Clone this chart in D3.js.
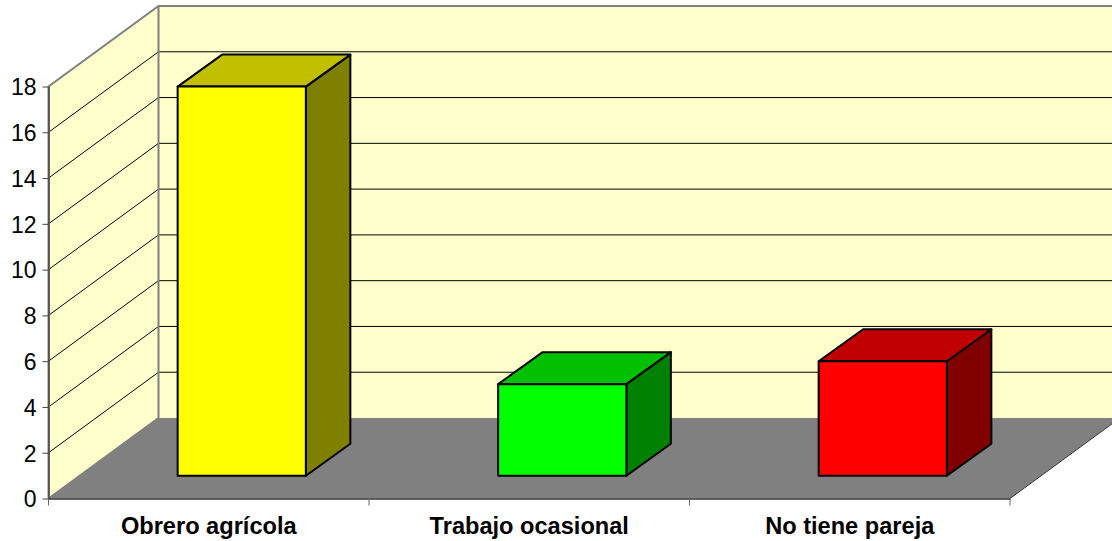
<!DOCTYPE html>
<html>
<head>
<meta charset="utf-8">
<script src="https://cdn.jsdelivr.net/npm/d3@7"></script>
<style>
  html, body { margin: 0; padding: 0; background: #fff; }
  svg { display: block; }
  text { font-family: "Liberation Sans", Arial, sans-serif; fill: #000; }
</style>
</head>
<body>
<div id="chart"></div>
<script>
const categories = ['Obrero agrícola', 'Trabajo ocasional', 'No tiene pareja'];
const values = [17, 4, 5];
const yTicks = [0, 2, 4, 6, 8, 10, 12, 14, 16, 18];

const barColors = {
  front: ['#ffff00', '#00ff00', '#ff0000'],
  top: ['#c0c000', '#00c000', '#c00000'],
  side: ['#808000', '#008000', '#800000'],
};

const W = 1112, H = 541;
const plot = { left: 48.5, right: 1010, top: 86.5, bottom: 498.5 };
// how far the back wall is pushed from the front plane
const depth = { x: 110, y: -80.5 };
// where the bars sit inside that depth
const barFront = { x: 33, y: -22.8 };
const barBack = { x: 77.5, y: -54.8 };

const x = d3.scaleBand().domain(categories)
  .range([plot.left, plot.right])
  .paddingInner(0.6).paddingOuter(0.3);
const xEdges = d3.scaleLinear().domain([0, categories.length]).range([plot.left, plot.right]);
const y = d3.scaleLinear().domain([0, 18]).range([plot.bottom, plot.top]);

const svg = d3.select('#chart').append('svg')
  .attr('width', W).attr('height', H)
  .attr('viewBox', `0 0 ${W} ${H}`);

const poly = pts => d3.line()(pts) + 'Z';
const backX = plot.left + depth.x;
const farRight = plot.right + depth.x;

// Walls
svg.append('path')
  .attr('d', poly([[backX, y(18) + depth.y], [farRight, y(18) + depth.y], [farRight, y(0) + depth.y], [backX, y(0) + depth.y]]))
  .attr('fill', '#ffffcc');
svg.append('path')
  .attr('d', poly([[plot.left, y(0)], [plot.left, y(18)], [backX, y(18) + depth.y], [backX, y(0) + depth.y]]))
  .attr('fill', '#ffffcc');

// Floor
svg.append('path')
  .attr('d', poly([[plot.left, y(0)], [plot.right, y(0)], [farRight, y(0) + depth.y], [backX, y(0) + depth.y]]))
  .attr('fill', '#808080');

// Gridlines, side wall then back wall
const grid = yTicks.filter(t => t > 0 && t < 18);
svg.append('g').selectAll('path')
  .data(grid)
  .join('path')
  .attr('d', t => d3.line()([[plot.left, y(t)], [backX, y(t) + depth.y], [W, y(t) + depth.y]]))
  .attr('fill', 'none')
  .attr('stroke', '#000')
  .attr('stroke-width', 1);

// Wall borders
svg.append('path')
  .attr('d', d3.line()([[plot.left, y(0)], [plot.left, y(18)], [backX, y(18) + depth.y], [W, y(18) + depth.y]]))
  .attr('fill', 'none').attr('stroke', '#808080').attr('stroke-width', 2);
svg.append('path')
  .attr('d', d3.line()([[plot.left, y(0)], [backX, y(0) + depth.y], [backX, y(18) + depth.y]]))
  .attr('fill', 'none').attr('stroke', '#808080').attr('stroke-width', 2);
svg.append('path')
  .attr('d', d3.line()([[plot.right, y(0)], [farRight, y(0) + depth.y]]))
  .attr('fill', 'none').attr('stroke', '#333').attr('stroke-width', 1);

// Bars
const bars = svg.append('g').selectAll('g')
  .data(categories.map((c, i) => ({ c, i, v: values[i] })))
  .join('g')
  .attr('stroke', '#000')
  .attr('stroke-width', 2)
  .attr('stroke-linejoin', 'round');

const faceX = (d, o) => x(d.c) + o.x;
bars.append('path')
  .attr('fill', d => barColors.side[d.i])
  .attr('d', d => {
    const x1 = faceX(d, barFront) + x.bandwidth(), x2 = faceX(d, barBack) + x.bandwidth();
    return poly([[x1, y(0) + barFront.y], [x1, y(d.v) + barFront.y], [x2, y(d.v) + barBack.y], [x2, y(0) + barBack.y]]);
  });
bars.append('path')
  .attr('fill', d => barColors.top[d.i])
  .attr('d', d => {
    const x1 = faceX(d, barFront), x2 = faceX(d, barBack), w = x.bandwidth();
    return poly([[x1, y(d.v) + barFront.y], [x1 + w, y(d.v) + barFront.y], [x2 + w, y(d.v) + barBack.y], [x2, y(d.v) + barBack.y]]);
  });
bars.append('rect')
  .attr('fill', d => barColors.front[d.i])
  .attr('x', d => faceX(d, barFront))
  .attr('y', d => y(d.v) + barFront.y)
  .attr('width', x.bandwidth())
  .attr('height', d => y(0) - y(d.v));

// Y axis
const yAxis = svg.append('g')
  .attr('transform', `translate(${plot.left},0)`)
  .call(d3.axisLeft(y).tickValues(yTicks).tickSize(6).tickSizeOuter(0).tickPadding(6));
yAxis.select('.domain').attr('stroke', '#444').attr('stroke-width', 1.5);
yAxis.selectAll('.tick line').attr('stroke', '#444');
yAxis.selectAll('text')
  .attr('font-size', 23)
  .attr('dy', '0.36em')
  .style('font-family', '"Liberation Sans", Arial, sans-serif');

// X axis: labels at band centres, ticks at the band edges
const xAxis = svg.append('g')
  .attr('transform', `translate(0,${plot.bottom})`)
  .call(d3.axisBottom(x).tickSize(0).tickPadding(19));
xAxis.select('.domain').attr('stroke', '#333').attr('stroke-width', 1.5);
xAxis.selectAll('text')
  .attr('font-size', 23.6)
  .attr('font-weight', 'bold')
  .style('font-family', '"Liberation Sans", Arial, sans-serif');
xAxis.selectAll('.edge')
  .data(d3.range(categories.length + 1))
  .join('line')
  .attr('class', 'edge')
  .attr('x1', d => xEdges(d)).attr('x2', d => xEdges(d))
  .attr('y1', 0).attr('y2', 7)
  .attr('stroke', '#666');
</script>
</body>
</html>
